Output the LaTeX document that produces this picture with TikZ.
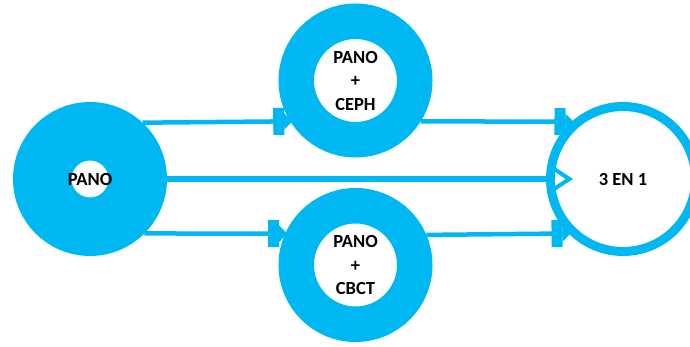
\documentclass[tikz,border=0pt]{standalone}
\usepackage{fontspec}
\setmainfont{Carlito}
\usetikzlibrary{arrows.meta,positioning}
\definecolor{ringblue}{RGB}{0,184,241}
\tikzstyle{thickring} = [circle, draw=ringblue, fill=white, line width=58.5pt, minimum size=95.5pt, inner sep=0pt]
\tikzstyle{ring} = [circle, draw=ringblue, fill=white, line width=35.5pt, minimum size=118.5pt, inner sep=0pt, align=center]
\tikzstyle{thinring} = [circle, draw=ringblue, fill=white, line width=9pt, minimum size=145pt, inner sep=0pt]
\tikzstyle{link} = [draw=ringblue, line width=4.5pt, -{Square[length=11pt,width=27pt,sep=0pt]Triangle[length=8pt,width=16pt]}]
\tikzstyle{mainlink} = [draw=ringblue, line width=6pt, -{Triangle[length=22pt,width=28pt,fill=white,line width=4pt]}]
\begin{document}
\begin{tikzpicture}[x=1pt, y=-1pt, font=\fontsize{18.5}{23.5}\selectfont\bfseries]
    \useasboundingbox (0,0) rectangle (690,347);
    \node [thickring] (pano) at (90,179) {PANO};
    \node [ring, on grid, above right=98.5pt and 265.5pt of pano] (ceph) {PANO\\+\\CEPH};
    \node [ring, on grid, below right=86pt and 265.5pt of pano] (cbct) {PANO\\+\\CBCT};
    \node [thinring, on grid, right=533pt of pano] (trois) {3 EN 1};
    % upper way
    \draw [link] (pano.47.75) -- ([xshift=2pt]ceph.212.61);
    \draw [link] (ceph.-32.61) -- ([xshift=2pt]trois.132.25);
    % straight way
    \draw [mainlink] (pano.east) -- ([xshift=27pt]trois.west);
    % lower way
    \draw [link] (pano.-45.58) -- ([xshift=2pt]cbct.156.26);
    \draw [link] (cbct.23.74) -- ([xshift=2pt]trois.225.58);
\end{tikzpicture}
\end{document}
